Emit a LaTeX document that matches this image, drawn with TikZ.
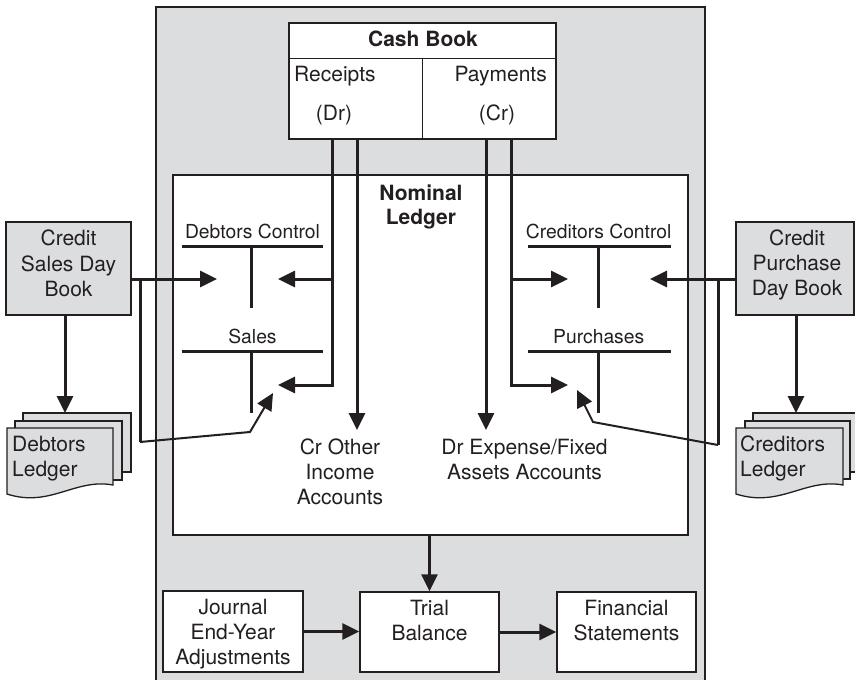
\documentclass[tikz,border=0pt]{standalone}
\usepackage{fontspec}
\setmainfont{TeX Gyre Heros}
\usetikzlibrary{arrows.meta,calc}
\definecolor{panel}{HTML}{DCDDDF}
\definecolor{ink}{HTML}{231F20}
\tikzset{
  box/.style={draw=ink, line width=1.3pt, fill=white, inner sep=0pt, rectangle},
  graybox/.style={box, fill=panel},
  txt/.style={inner sep=0pt, text=ink, font=\fontsize{21}{25}\selectfont, align=center},
  tlabel/.style={inner sep=0pt, text=ink, font=\fontsize{19.3}{23}\selectfont},
  link/.style={draw=ink, line width=3pt},
  thinlink/.style={draw=ink, line width=2pt},
  arr/.style={-{Triangle[length=17pt,width=16pt]}},
  tacct/.style={draw=ink, line width=3pt},
}
\begin{document}
\begin{tikzpicture}[x=1pt, y=-1pt]
\useasboundingbox (0,0) rectangle (855,680);
\clip (0,0) rectangle (855,680);

% shaded accounting-system panel
\fill[panel] (156,7) rectangle (705,680);
\draw[ink, line width=1.3pt] (156,680) -- (156,7) -- (705,7) -- (705,680);

% main boxes
\node[box, minimum width=515pt, minimum height=360pt] (nom) at (430.5,355) {};
\node[box, minimum width=267pt, minimum height=116pt] (cash) at (422.5,81) {};
\draw[ink, line width=1.3pt] ($(cash.north west)+(0.65,36)$) -- ($(cash.north east)+(-0.65,36)$);
\draw[ink, line width=1.3pt] ($(cash.north)+(0,36)$) -- ($(cash.south)+(0,-0.65)$);

\node[box, minimum width=140pt, minimum height=81pt] (jr) at (233,631.5) {};
\node[box, minimum width=139pt, minimum height=80pt] (tb) at (429.5,632) {};
\node[box, minimum width=139pt, minimum height=80pt] (fs) at (626.5,632) {};

\node[graybox, minimum width=125pt, minimum height=93pt] (csdb) at (68.5,268.5) {};
\node[graybox, minimum width=118pt, minimum height=93pt] (cpdb) at (795,268.5) {};

% stacked ledger sheets, left
\node[graybox, minimum width=108pt, minimum height=59pt] (dlback) at (77,442.5) {};
\node[graybox, minimum width=107pt, minimum height=59pt] (dlmid) at (68.5,450.5) {};
\draw[ink, line width=1.3pt, fill=panel] (7,428) -- (113,428) -- (113,485)
  .. controls (75,478) and (50,508) .. (7,494) -- cycle;
% stacked ledger sheets, right
\node[graybox, minimum width=107pt, minimum height=59pt] (clback) at (806.5,442.5) {};
\node[graybox, minimum width=105pt, minimum height=58pt] (clmid) at (797.5,450) {};
\draw[ink, line width=1.3pt, fill=panel] (736,428) -- (843,428) -- (843,485)
  .. controls (805,478) and (780,508) .. (736,494) -- cycle;

% texts
\node[txt, font=\bfseries\fontsize{21}{25}\selectfont] (cashT) at (423,39) {Cash Book};
\node[txt, anchor=base west] (rcT) at (294,81.5) {Receipts};
\node[txt, anchor=base east] (pyT) at (547,81.5) {Payments};
\node[txt, anchor=base] (drT) at (334,120.5) {(Dr)};
\node[txt, anchor=base] (crT) at (497,120.5) {(Cr)};
\node[txt, font=\bfseries\fontsize{21}{24}\selectfont] (nomT) at (421,207) {Nominal\\Ledger};

\node[tlabel, anchor=base] (dcT) at (252.5,238.9) {Debtors Control};
\node[tlabel, anchor=base] (slT) at (252.5,343.9) {Sales};
\node[tlabel, anchor=base] (ccT) at (598.7,238.9) {Creditors Control};
\node[tlabel, anchor=base] (puT) at (598.7,343.9) {Purchases};

\node[txt, font=\fontsize{21}{25.5}\selectfont] (csT) at (68.5,263.4) {Credit\\Sales Day\\Book};
\node[txt] (cpT) at (797,265) {Credit\\Purchase\\Day Book};
\node[txt, align=left, anchor=west] (dlT) at (12,458.5) {Debtors\\Ledger};
\node[txt, align=left, anchor=west] (clT) at (740,458.5) {Creditors\\Ledger};
\node[txt] (oiT) at (340,471.9) {Cr Other\\Income\\Accounts};
\node[txt] (exT) at (524.5,459.4) {Dr Expense/Fixed\\Assets Accounts};
\node[txt] (jT) at (233,634) {Journal\\End-Year\\Adjustments};
\node[txt] (tT) at (429.5,620.4) {Trial\\Balance};
\node[txt] (fT) at (626.5,620.4) {Financial\\Statements};

% T-accounts
\draw[tacct] (182,246) -- (323,246) (251,246) -- (251,308);
\draw[tacct] (182,351) -- (323,351) (251,351) -- (251,413);
\draw[tacct] (528,246) -- (671,246) (598,246) -- (598,308);
\draw[tacct] (528,351) -- (671,351) (598,351) -- (598,413);

% connector points
\coordinate (dcL) at (217,279);
\coordinate (dcR) at (278,279);
\coordinate (slR) at (278,385);
\coordinate (rA) at (332,385);
\coordinate (rB) at (357,430);
\coordinate (pA) at (486,430);
\coordinate (pB) at (511,385);
\coordinate (ccL) at (568,279);
\coordinate (puL) at (568,385);
\coordinate (ccR) at (650,279);
\coordinate (sJ) at (140,279);
\coordinate (sB) at (140,442);
\coordinate (sK) at (250,432);
\coordinate (slL) at (273,393);
\coordinate (pJ) at (718,279);
\coordinate (pBt) at (718,445);
\coordinate (pK) at (593,422);
\coordinate (puR) at (577,390);
\coordinate (dlTop) at (65,413);
\coordinate (clTop) at (796,413);

% cash book postings
\draw[link,arr] (cash.south -| rA) -- (rA) -- (slR);
\draw[link,arr] (rA |- dcR) -- (dcR);
\draw[link,arr] (cash.south -| rB) -- (rB);
\draw[link,arr] (cash.south -| pA) -- (pA);
\draw[link,arr] (cash.south -| pB) -- (pB) -- (puL);
\draw[link,arr] (pB |- ccL) -- (ccL);

% day book postings
\draw[link,arr] (csdb.east |- dcL) -- (dcL);
\draw[link] (sJ) -- (sB);
\draw[thinlink,arr] (sB) -- (sK) -- (slL);
\draw[link,arr] (csdb.south -| dlTop) -- (dlTop);

\draw[link,arr] (cpdb.west |- ccR) -- (ccR);
\draw[link] (pJ) -- (pBt);
\draw[thinlink,arr] (pBt) -- (pK) -- (puR);
\draw[link,arr] (cpdb.south -| clTop) -- (clTop);

% year-end flow
\draw[link,arr] (tb.north |- nom.south) -- (tb.north);
\draw[link,arr] (jr.east) -- (jr.east -| tb.west);
\draw[link,arr] (tb.east) -- (fs.west);
\end{tikzpicture}
\end{document}
